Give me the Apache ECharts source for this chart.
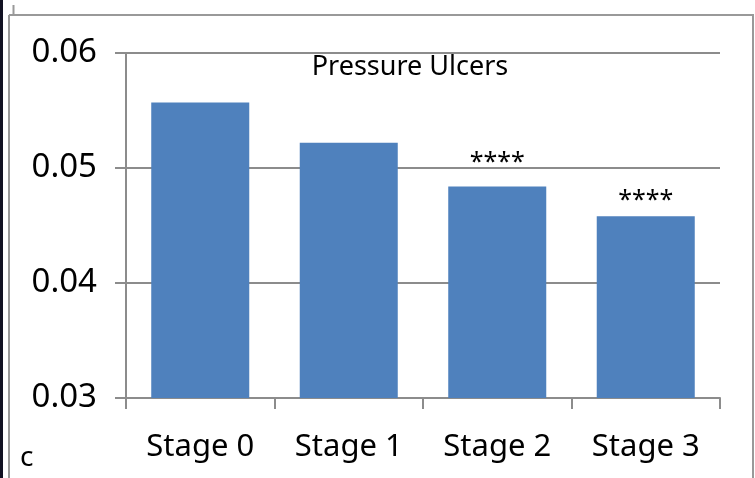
<!DOCTYPE html>
<html>
<head>
<meta charset="utf-8">
<script src="https://cdn.jsdelivr.net/npm/echarts@6/dist/echarts.min.js"></script>
<style>html,body{margin:0;padding:0;background:#fff;}#c{width:755px;height:478px;}</style>
</head>
<body>
<div id="c"></div>
<script>
const categories = ["Stage 0", "Stage 1", "Stage 2", "Stage 3"];
const values = [0.0557, 0.0522, 0.0484, 0.0458];
const marks = ["", "", "****", "****"];
const yTicks = [0.03, 0.04, 0.05, 0.06];
const titleText = "Pressure Ulcers";
const panelLetter = "c";

const FONT = "'Noto Sans', 'DejaVu Sans', sans-serif";
const GRAY = "#8c8c8c";
const markDistance = [5, 5, 11, 3];

const chart = echarts.init(document.getElementById('c'));
chart.setOption({
  animation: false,
  backgroundColor: '#fff',
  grid: { left: 126, right: 35, top: 53, bottom: 80 },
  title: {
    text: titleText, left: 405, top: 49, textAlign: 'center',
    textStyle: { fontFamily: FONT, fontSize: 27, fontWeight: 'normal', color: '#000' }
  },
  xAxis: {
    type: 'category', data: categories,
    axisLine: { lineStyle: { color: GRAY, width: 2 } },
    axisTick: { show: true, alignWithLabel: false, length: 11, lineStyle: { color: GRAY, width: 2 } },
    axisLabel: { color: '#000', fontFamily: FONT, fontSize: 31, margin: 34 }
  },
  yAxis: {
    type: 'value', min: yTicks[0], max: yTicks[yTicks.length - 1], interval: 0.01,
    axisLine: { show: true, lineStyle: { color: GRAY, width: 2 } },
    axisTick: { show: true, length: 11, lineStyle: { color: GRAY, width: 2 } },
    axisLabel: { color: '#000', fontFamily: FONT, fontSize: 33, margin: 29, formatter: v => v.toFixed(2) },
    splitLine: { show: true, lineStyle: { color: GRAY, width: 2 } }
  },
  series: [{
    type: 'bar', barCategoryGap: '34%',
    itemStyle: { color: '#4f81bd' },
    data: values.map((v, i) => ({
      value: v,
      label: { show: marks[i] !== '', position: 'top', distance: markDistance[i], formatter: marks[i],
               fontFamily: FONT, fontSize: 25, color: '#000' }
    }))
  }],
  graphic: [
    { type: 'rect', shape: { x: 0, y: 0, width: 3, height: 478 }, style: { fill: '#111122' } },
    { type: 'line', shape: { x1: 9, y1: 15, x2: 9, y2: 478 }, style: { stroke: '#999', lineWidth: 2 } },
    { type: 'line', shape: { x1: 9, y1: 15, x2: 754, y2: 15 }, style: { stroke: '#999', lineWidth: 2 } },
    { type: 'line', shape: { x1: 753, y1: 15, x2: 753, y2: 478 }, style: { stroke: '#999', lineWidth: 2 } },
    { type: 'line', shape: { x1: 13.5, y1: 5, x2: 13.5, y2: 15 }, style: { stroke: '#999', lineWidth: 2 } },
    { type: 'text', x: 20, y: 444, style: { text: panelLetter, font: '28px ' + FONT, fill: '#000' } }
  ]
});
</script>
</body>
</html>
